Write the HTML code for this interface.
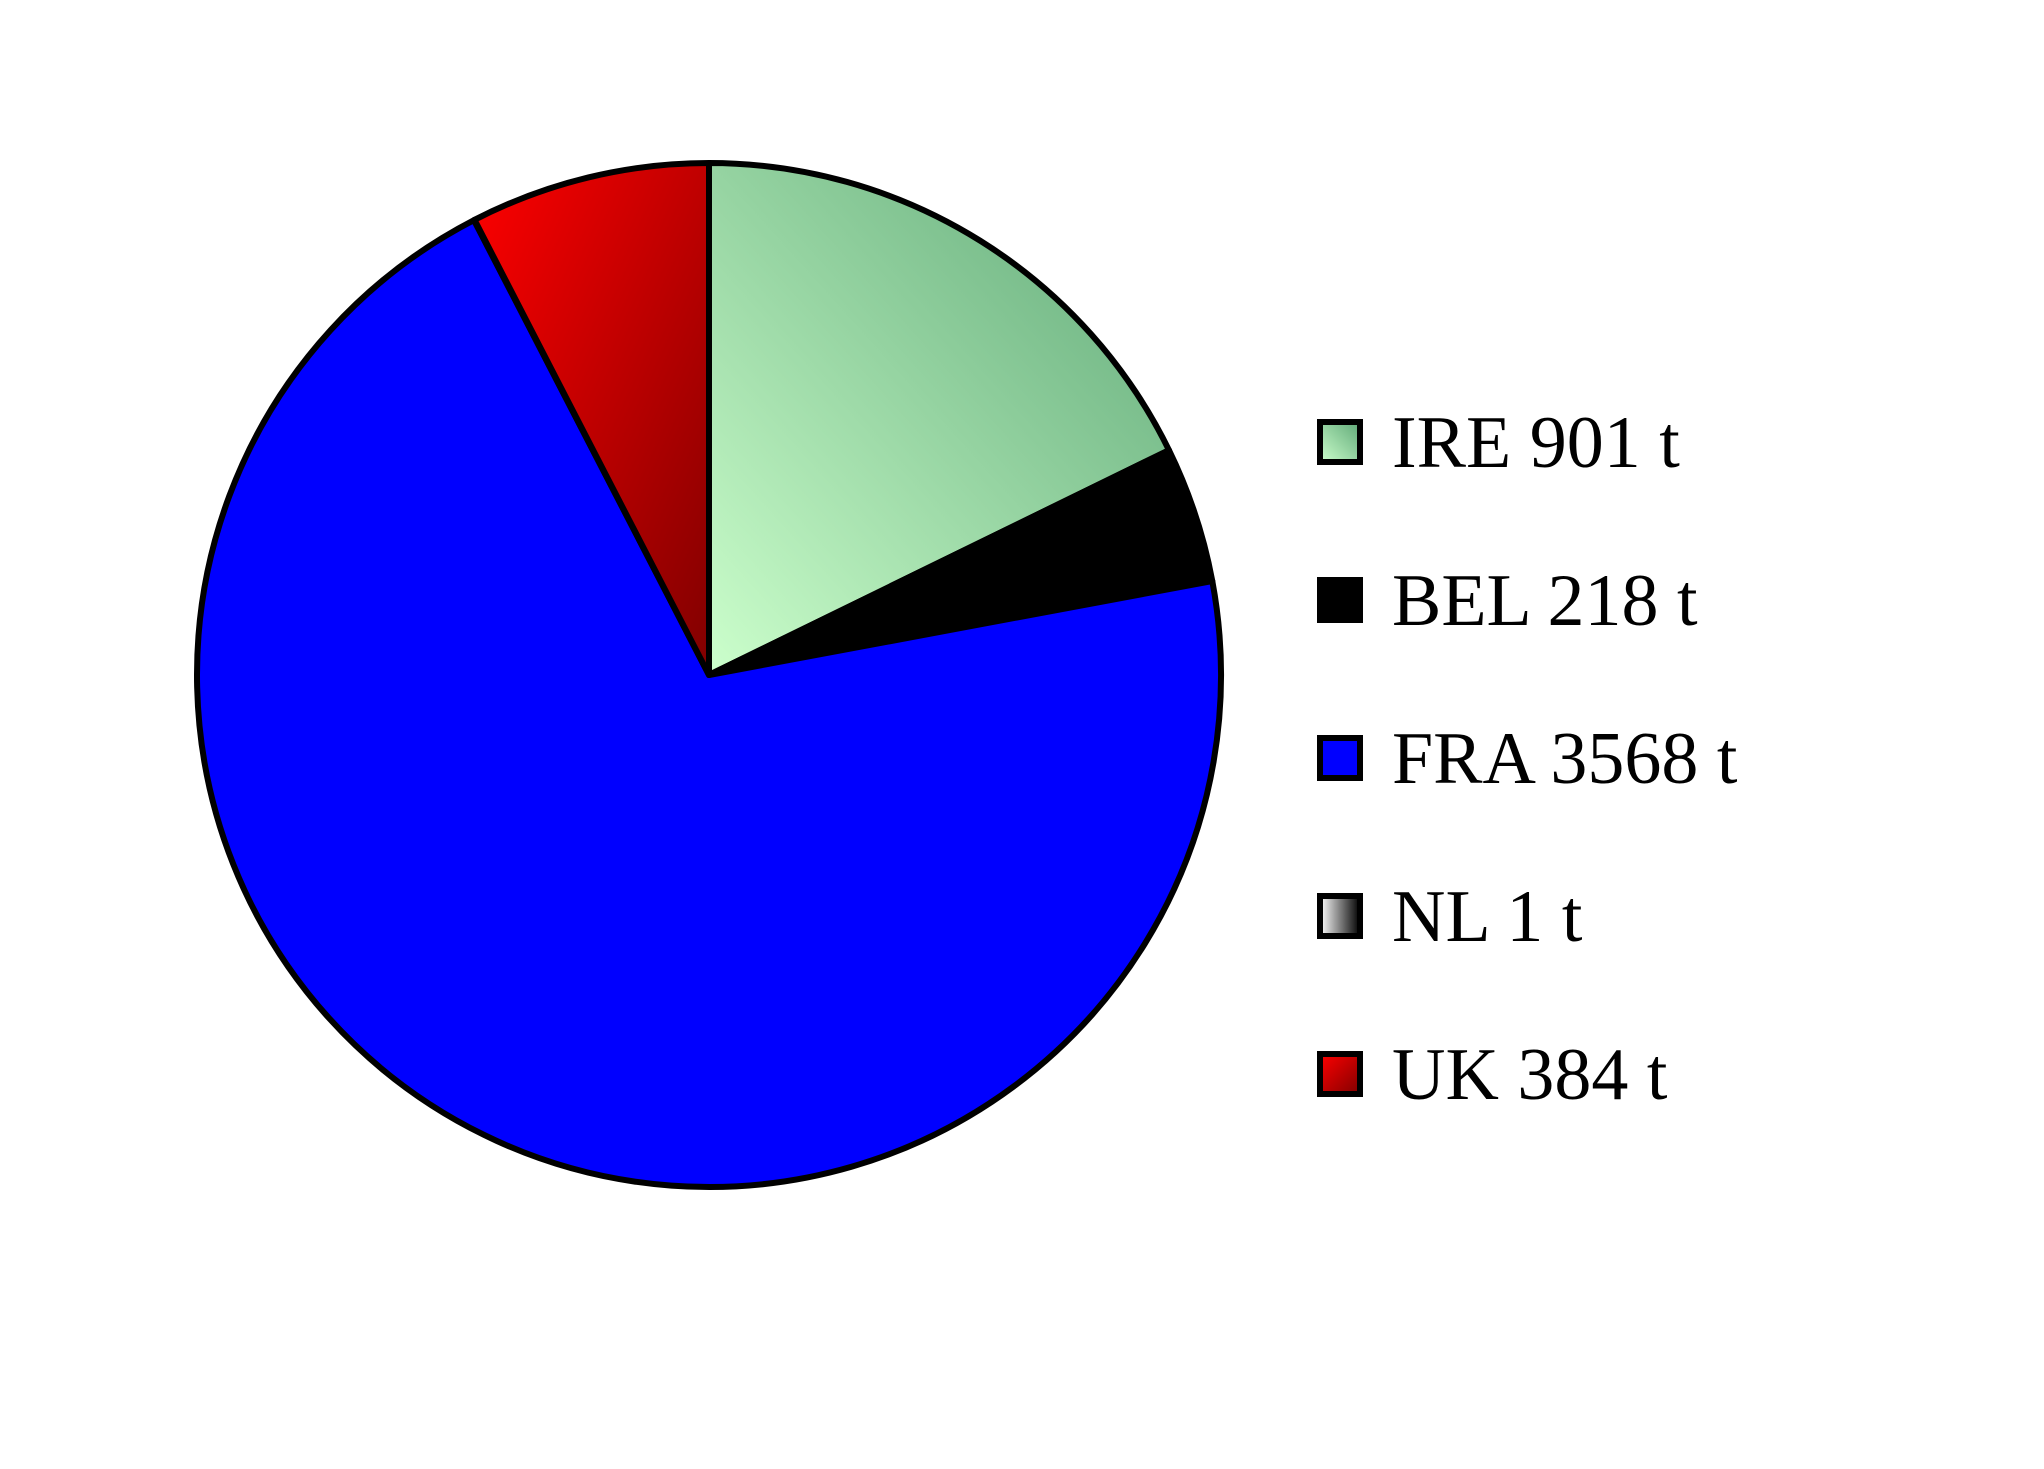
<!DOCTYPE html>
<html><head><meta charset="utf-8"><style>
html,body{margin:0;padding:0;background:#fff;}
svg{display:block;}
</style></head><body>
<svg id="chart" width="2044" height="1469" viewBox="0 0 2044 1469" xmlns="http://www.w3.org/2000/svg">
<defs>
<linearGradient id="g-ire" x1="0" y1="1" x2="1" y2="0"><stop offset="0" stop-color="#ccffcc"/><stop offset="1" stop-color="#5fa877"/></linearGradient>
<linearGradient id="g-bel" x1="0" y1="0" x2="1" y2="1"><stop offset="0" stop-color="#000"/><stop offset="1" stop-color="#000"/></linearGradient>
<linearGradient id="g-fra" x1="0" y1="0" x2="1" y2="1"><stop offset="0" stop-color="#0000ff"/><stop offset="1" stop-color="#0000ff"/></linearGradient>
<linearGradient id="g-nl" x1="0" y1="0" x2="1" y2="0"><stop offset="0" stop-color="#ffffff"/><stop offset="1" stop-color="#000000"/></linearGradient>
<linearGradient id="g-uk" x1="0" y1="0" x2="1" y2="1"><stop offset="0" stop-color="#ff0000"/><stop offset="1" stop-color="#800000"/></linearGradient>
</defs>
<g id="slices"></g>
<g id="legend"></g>
</svg>
<script>
const categories = ["IRE", "BEL", "FRA", "NL", "UK"];
const values = [901, 218, 3568, 1, 384];
const fills = ["url(#g-ire)", "url(#g-bel)", "url(#g-fra)", "url(#g-nl)", "url(#g-uk)"];
const NS = "http://www.w3.org/2000/svg";
const cx = 709, cy = 675, r = 512;
const total = values.reduce((a, b) => a + b, 0);
const slices = document.getElementById('slices');
const legend = document.getElementById('legend');
let a0 = 0;
function pt(a) { return [cx + r * Math.sin(a), cy - r * Math.cos(a)]; }
values.forEach((v, i) => {
  const a1 = a0 + v / total * 2 * Math.PI;
  const p0 = pt(a0), p1 = pt(a1);
  const large = (a1 - a0) > Math.PI ? 1 : 0;
  const path = document.createElementNS(NS, 'path');
  path.setAttribute('d', `M${cx},${cy} L${p0[0]},${p0[1]} A${r},${r} 0 ${large} 1 ${p1[0]},${p1[1]} Z`);
  path.setAttribute('fill', fills[i]);
  path.setAttribute('stroke', '#000');
  path.setAttribute('stroke-width', '6');
  path.setAttribute('stroke-linejoin', 'round');
  
  
  slices.appendChild(path);
  a0 = a1;

  const y = 442 + i * 158;
  const rect = document.createElementNS(NS, 'rect');
  rect.setAttribute('x', 1320); rect.setAttribute('y', y - 20);
  rect.setAttribute('width', 40); rect.setAttribute('height', 40);
  rect.setAttribute('fill', fills[i]);
  rect.setAttribute('stroke', '#000'); rect.setAttribute('stroke-width', '6');
  
  
  legend.appendChild(rect);
  const t = document.createElementNS(NS, 'text');
  t.setAttribute('x', 1392); t.setAttribute('y', y + 25);
  t.setAttribute('font-family', '"Liberation Serif", serif');
  t.setAttribute('font-size', '74');
  t.setAttribute('fill', '#000');
  t.textContent = categories[i] + ' ' + v + ' t';
  
  
  legend.appendChild(t);
});
</script>
</body></html>
